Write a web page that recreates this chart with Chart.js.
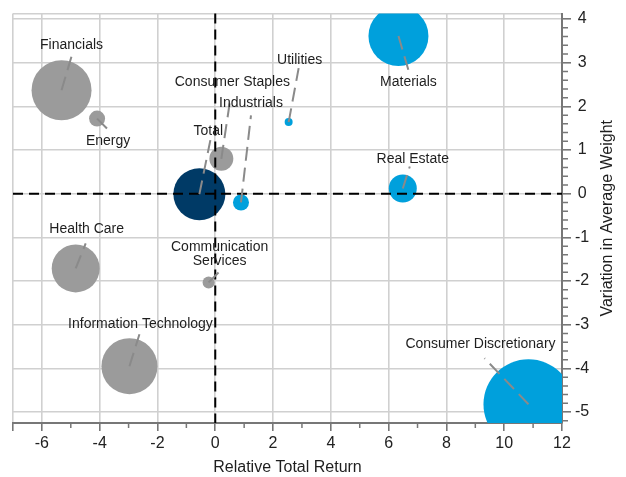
<!DOCTYPE html>
<html lang="en">
<head>
  <meta charset="UTF-8">
  <title>Sector Relative Return vs Weight Variation</title>
  <script src="https://cdn.jsdelivr.net/npm/chart.js"></script>
  <style>
    body {
      margin: 0;
      background-color: #fff;
    }
  </style>
</head>
<body>
  <canvas id="sectorBubble" width="626" height="477"></canvas>

  <script>
    // Data
    const sectors = ['Financials', 'Energy', 'Total', 'Consumer Staples', 'Industrials', 'Utilities',
      'Materials', 'Real Estate', 'Health Care', 'Communication Services', 'Information Technology',
      'Consumer Discretionary'];
    const relReturn = [-5.32, -4.09, -0.55, 0.21, 0.89, 2.54, 6.34, 6.49, -4.83, -0.23, -2.97, 10.84];
    const weightChange = [2.37, 1.72, -0.01, 0.80, -0.20, 1.64, 3.61, 0.12, -1.71, -2.03, -3.95, -4.82];
    const bubbleSize = [30, 8, 26, 12, 8, 4, 30, 14, 24, 6, 28, 45];
    const sectorGroup = ['grey', 'grey', 'total', 'grey', 'blue', 'blue', 'blue', 'blue', 'grey', 'grey', 'grey', 'blue'];
    const xTickValues = [-6, -4, -2, 0, 2, 4, 6, 8, 10, 12];
    const yTickValues = [-5, -4, -3, -2, -1, 0, 1, 2, 3, 4];
    const xRange = [-7, 12];
    const yRange = [-5.25, 4.125];

    const groupColors = { grey: '#9b9b9b', blue: '#00a0dc', total: '#003a66' };
    const FONT = '"Liberation Sans", Arial, sans-serif';

    // label placement, pixels from bubble centre: text centre (tx, ty), leader end (lx, ly)
    const labelLayout = [
      { tx: 10, ty: -45, lx: 10, ly: -34 },
      { tx: 11, ty: 23, lx: 10, ly: 10 },
      { tx: 9, ty: -63, lx: 11, ly: -54 },
      { tx: 11, ty: -77, lx: 9, ly: -60 },
      { tx: 10, ty: -99, lx: 10, ly: -87 },
      { tx: 11, ty: -62, lx: 10, ly: -54 },
      { tx: 10, ty: 46, lx: 10, ly: 34 },
      { tx: 10, ty: -29, lx: 7, ly: -22 },
      { tx: 11, ty: -39, lx: 10, ly: -25 },
      { tx: 11, ty: -28, lx: 10, ly: -10 },
      { tx: 11, ty: -42, lx: 10, ly: -32 },
      { tx: -48, ty: -60, lx: -44, ly: -46 }
    ];
    const wrapped = { 'Communication Services': ['Communication', 'Services'] };

    const overlay = {
      id: 'overlay',
      afterDatasetsDraw(chart) {
        const { ctx, chartArea: a, scales: { x, y } } = chart;
        ctx.save();

        // dashed zero lines
        const x0 = x.getPixelForValue(0);
        const y0 = y.getPixelForValue(0);
        ctx.strokeStyle = '#000';
        ctx.lineWidth = 2;
        ctx.setLineDash([10, 6]);
        ctx.beginPath();
        ctx.moveTo(x0, a.top);
        ctx.lineTo(x0, a.bottom);
        ctx.moveTo(a.left, y0);
        ctx.lineTo(a.right, y0);
        ctx.stroke();

        // leader lines
        const pts = chart.getDatasetMeta(0).data;
        ctx.strokeStyle = '#8a8a8a';
        ctx.lineWidth = 2;
        ctx.setLineDash([14, 7]);
        pts.forEach((p, i) => {
          const o = labelLayout[i];
          ctx.beginPath();
          ctx.moveTo(p.x, p.y);
          ctx.lineTo(p.x + o.lx, p.y + o.ly);
          ctx.stroke();
        });
        ctx.setLineDash([]);

        // sector labels
        ctx.fillStyle = '#1e1e1e';
        ctx.font = '14px ' + FONT;
        ctx.textAlign = 'center';
        ctx.textBaseline = 'middle';
        pts.forEach((p, i) => {
          const o = labelLayout[i];
          const lines = wrapped[sectors[i]] || [sectors[i]];
          lines.forEach((t, k) => {
            ctx.fillText(t, p.x + o.tx, p.y + o.ty + (k - (lines.length - 1) / 2) * 14);
          });
        });

        // minor ticks
        ctx.strokeStyle = '#777';
        ctx.lineWidth = 1.5;
        ctx.beginPath();
        for (let v = -5; v <= 11; v += 2) {
          const px = x.getPixelForValue(v);
          ctx.moveTo(px, a.bottom);
          ctx.lineTo(px, a.bottom + 5);
        }
        for (let k = -26; k <= 20; k++) {
          if (k % 5 === 0) continue;
          const py = y.getPixelForValue(k / 5);
          ctx.moveTo(a.right, py);
          ctx.lineTo(a.right + 6, py);
        }
        ctx.stroke();

        // axis titles
        ctx.font = '16px ' + FONT;
        ctx.fillText('Relative Total Return', (a.left + a.right) / 2, a.bottom + 45);
        ctx.translate(a.right + 46, (a.top + a.bottom) / 2);
        ctx.rotate(-Math.PI / 2);
        ctx.fillText('Variation in Average Weight', 0, 0);
        ctx.restore();
      }
    };

    const ctx = document.getElementById('sectorBubble').getContext('2d');
    new Chart(ctx, {
      type: 'bubble',
      data: {
        datasets: [{
          label: 'Sectors',
          data: sectors.map((s, i) => ({ x: relReturn[i], y: weightChange[i], r: bubbleSize[i] })),
          backgroundColor: sectorGroup.map(g => groupColors[g]),
          borderWidth: 0,
          clip: 0
        }]
      },
      options: {
        responsive: false,
        animation: false,
        layout: { autoPadding: false, padding: { left: 13, top: 13.5, right: 0, bottom: 0 } },
        plugins: {
          legend: { display: false },
          tooltip: { enabled: false }
        },
        scales: {
          x: {
            type: 'linear',
            position: 'bottom',
            min: xRange[0],
            max: xRange[1],
            afterBuildTicks: s => { s.ticks = [xRange[0], ...xTickValues].map(v => ({ value: v })); },
            ticks: {
              autoSkip: false,
              maxRotation: 0,
              padding: 3,
              color: '#222',
              font: { family: FONT, size: 16 },
              callback: v => xTickValues.includes(v) ? String(v) : ''
            },
            grid: { color: '#d0d0d0', lineWidth: 1.6, tickLength: 8, tickColor: '#777' },
            border: { color: '#777', width: 2 },
            afterFit: s => { s.height = 54; }
          },
          y: {
            type: 'linear',
            position: 'right',
            min: yRange[0],
            max: yRange[1],
            afterBuildTicks: s => { s.ticks = [yRange[0], ...yTickValues, yRange[1]].map(v => ({ value: v })); },
            ticks: {
              autoSkip: false,
              padding: 4,
              crossAlign: 'center',
              color: '#222',
              font: { family: FONT, size: 16 },
              callback: v => yTickValues.includes(v) ? String(v) : ''
            },
            grid: {
              color: '#d0d0d0',
              lineWidth: 1.6,
              tickLength: 9,
              tickColor: c => yTickValues.includes(c.tick.value) ? '#777' : 'rgba(0,0,0,0)'
            },
            border: { color: '#777', width: 2 },
            afterFit: s => { s.width = 64; }
          }
        }
      },
      plugins: [overlay]
    });
  </script>
</body>
</html>
